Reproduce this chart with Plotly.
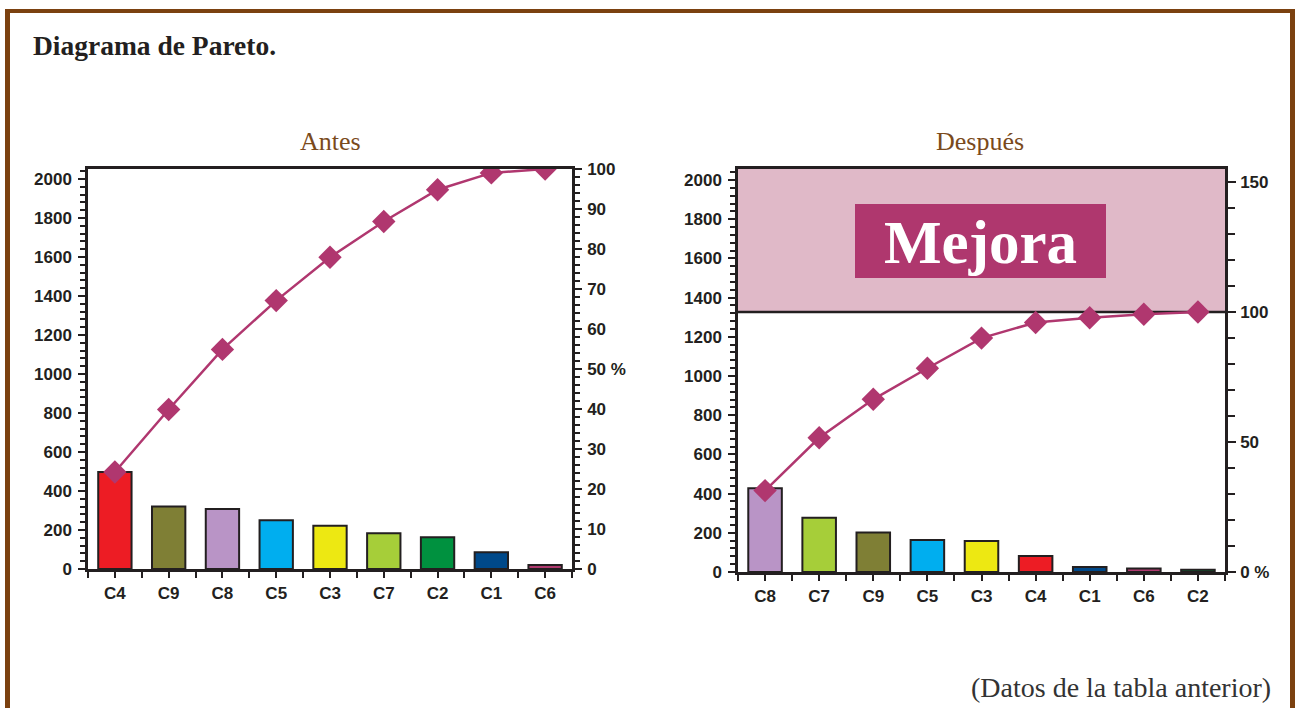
import plotly.graph_objects as go

# ---------------- data ----------------
antes_cats = ["C4", "C9", "C8", "C5", "C3", "C7", "C2", "C1", "C6"]
antes_vals = [497, 320, 308, 250, 222, 183, 163, 86, 20]

despues_cats = ["C8", "C7", "C9", "C5", "C3", "C4", "C1", "C6", "C2"]
despues_vals = [427, 277, 202, 163, 158, 82, 25, 18, 12]

left_ticks = [0, 200, 400, 600, 800, 1000, 1200, 1400, 1600, 1800, 2000]
pct_ticks_antes = [0, 10, 20, 30, 40, 50, 60, 70, 80, 90, 100]
pct_labels_antes = ["0", "10", "20", "30", "40", "50 %", "60", "70", "80", "90", "100"]
pct_ticks_despues = [0, 50, 100, 150]
pct_labels_despues = ["0 %", "50", "100", "150"]

cat_colors = {
    "C1": "#00498A", "C2": "#00913F", "C3": "#EDE812", "C4": "#ED1C24",
    "C5": "#00AEEF", "C6": "#B03A6F", "C7": "#A6CE39", "C8": "#B994C6",
    "C9": "#7F7F35",
}

# ---------------- style ----------------
W, H = 1295, 708
LINE_C = "#B0376F"
AX_C = "#231F20"
BROWN = "#7A4A1C"
BORDER = "#7B4110"


def px(x):
    return x / W


def py(y):
    return 1 - y / H


def cum_pct(vals):
    total = sum(vals)
    out, run = [], 0
    for v in vals:
        run += v
        out.append(run / total * 100)
    return out


tickfont = dict(family="Liberation Sans", size=17, color=AX_C, weight="bold")

fig = go.Figure()

for cats, vals, xa, ya, ya2 in [
    (antes_cats, antes_vals, "x", "y", "y2"),
    (despues_cats, despues_vals, "x2", "y3", "y4"),
]:
    idx = list(range(len(cats)))
    fig.add_trace(go.Bar(
        x=idx, y=vals, width=0.62,
        marker=dict(color=[cat_colors[c] for c in cats],
                    line=dict(color=AX_C, width=2)),
        xaxis=xa, yaxis=ya, showlegend=False, hoverinfo="x+y",
    ))
    fig.add_trace(go.Scatter(
        x=idx, y=cum_pct(vals), mode="lines+markers",
        line=dict(color=LINE_C, width=2.5),
        marker=dict(symbol="diamond", size=18, color=LINE_C),
        xaxis=xa, yaxis=ya2, showlegend=False,
    ))


def xaxis_cfg(cats, x0, x1, anchor):
    n = len(cats)
    return dict(
        domain=[px(x0), px(x1)], anchor=anchor, range=[-0.5, n - 0.5],
        tickmode="array", tickvals=list(range(n)), ticktext=cats,
        ticks="outside", ticklen=6, tickwidth=2, tickcolor=AX_C,
        minor=dict(tickmode="array", tickvals=[i - 0.5 for i in range(n + 1)],
                   ticks="outside", ticklen=6, tickwidth=2, tickcolor=AX_C),
        showline=True, linewidth=2.5, linecolor=AX_C, mirror=True,
        showgrid=False, zeroline=False, tickfont=tickfont,
        ticklabelstandoff=1, fixedrange=True, automargin=False,
    )


def yaxis_cfg(y0, y1, anchor, rng, tickvals, ticktext, minor_dtick, side="left",
              overlay=None, standoff=3):
    d = dict(
        domain=[py(y1), py(y0)], anchor=anchor, range=rng, side=side,
        tickmode="array", tickvals=tickvals, ticktext=ticktext,
        ticks="outside", ticklen=7, tickwidth=2, tickcolor=AX_C,
        minor=dict(tick0=0, dtick=minor_dtick, ticks="outside", ticklen=5,
                   tickwidth=1.5, tickcolor=AX_C),
        showline=True, linewidth=2.5, linecolor=AX_C,
        showgrid=False, zeroline=False, tickfont=tickfont,
        ticklabelstandoff=standoff, fixedrange=True, automargin=False,
    )
    if overlay:
        d["overlaying"] = overlay
        d.pop("domain")
    return d


fig.update_layout(
    width=W, height=H, margin=dict(l=0, r=0, t=0, b=0, pad=0), autosize=False,
    paper_bgcolor="white", plot_bgcolor="white", showlegend=False,
    xaxis=xaxis_cfg(antes_cats, 88, 572, "y"),
    yaxis=yaxis_cfg(169, 569, "x", [0, 2051], left_ticks, [str(t) for t in left_ticks], 40),
    yaxis2=yaxis_cfg(169, 569, "x", [0, 100], pct_ticks_antes, pct_labels_antes, 2,
                     side="right", overlay="y", standoff=2),
    xaxis2=xaxis_cfg(despues_cats, 738, 1225, "y3"),
    yaxis3=yaxis_cfg(169, 572, "x2", [0, 2056], left_ticks, [str(t) for t in left_ticks], 40),
    yaxis4=yaxis_cfg(169, 572, "x2", [0, 155], pct_ticks_despues, pct_labels_despues, 10,
                     side="right", overlay="y3", standoff=1),
)
fig.layout.yaxis4.ticklen = 8
fig.layout.yaxis4.minor.ticklen = 7
fig.layout.yaxis4.minor.tickwidth = 2

shapes = [
    # pink improvement band
    dict(type="rect", xref="x2 domain", yref="y4", x0=0, x1=1, y0=100, y1=155,
         fillcolor="#E0B9C8", line=dict(width=0), layer="below"),
    dict(type="line", xref="x2 domain", yref="y4", x0=0, x1=1, y0=100, y1=100,
         line=dict(color=AX_C, width=2.5), layer="below"),
    # Mejora box
    dict(type="rect", xref="paper", yref="paper", x0=px(855), x1=px(1106),
         y0=py(278), y1=py(204), fillcolor="#AF376E", line=dict(width=0), layer="above"),
    # page frame
    dict(type="line", xref="paper", yref="paper", x0=px(5), x1=px(1295), y0=py(11), y1=py(11),
         line=dict(color=BORDER, width=4)),
    dict(type="line", xref="paper", yref="paper", x0=px(7.5), x1=px(7.5), y0=py(9), y1=0,
         line=dict(color=BORDER, width=5)),
    dict(type="line", xref="paper", yref="paper", x0=px(1292.5), x1=px(1292.5), y0=py(9), y1=0,
         line=dict(color=BORDER, width=5)),
]
fig.update_layout(shapes=shapes)

serif = "Liberation Serif"
annotations = [
    dict(text="Diagrama de Pareto.", x=px(31), y=py(45), xref="paper", yref="paper",
         xanchor="left", yanchor="middle", showarrow=False,
         font=dict(family=serif, size=27.5, color="#231F20", weight="bold")),
    dict(text="Antes", x=px(330), y=py(141), xref="paper", yref="paper",
         xanchor="center", yanchor="middle", showarrow=False,
         font=dict(family=serif, size=26, color=BROWN)),
    dict(text="Después", x=px(980), y=py(141), xref="paper", yref="paper",
         xanchor="center", yanchor="middle", showarrow=False,
         font=dict(family=serif, size=26, color=BROWN)),
    dict(text="Mejora", x=px(980.5), y=py(243), xref="paper", yref="paper",
         xanchor="center", yanchor="middle", showarrow=False,
         font=dict(family=serif, size=61, color="white", weight="bold")),
    dict(text="(Datos de la tabla anterior)", x=px(1273), y=py(687), xref="paper", yref="paper",
         xanchor="right", yanchor="middle", showarrow=False,
         font=dict(family=serif, size=28, color="#333333")),
]
fig.update_layout(annotations=annotations)

fig.write_html(
    "out.html",
    config={"displayModeBar": False},
    post_script="document.body.style.margin='0';document.body.style.overflow='hidden';",
)
